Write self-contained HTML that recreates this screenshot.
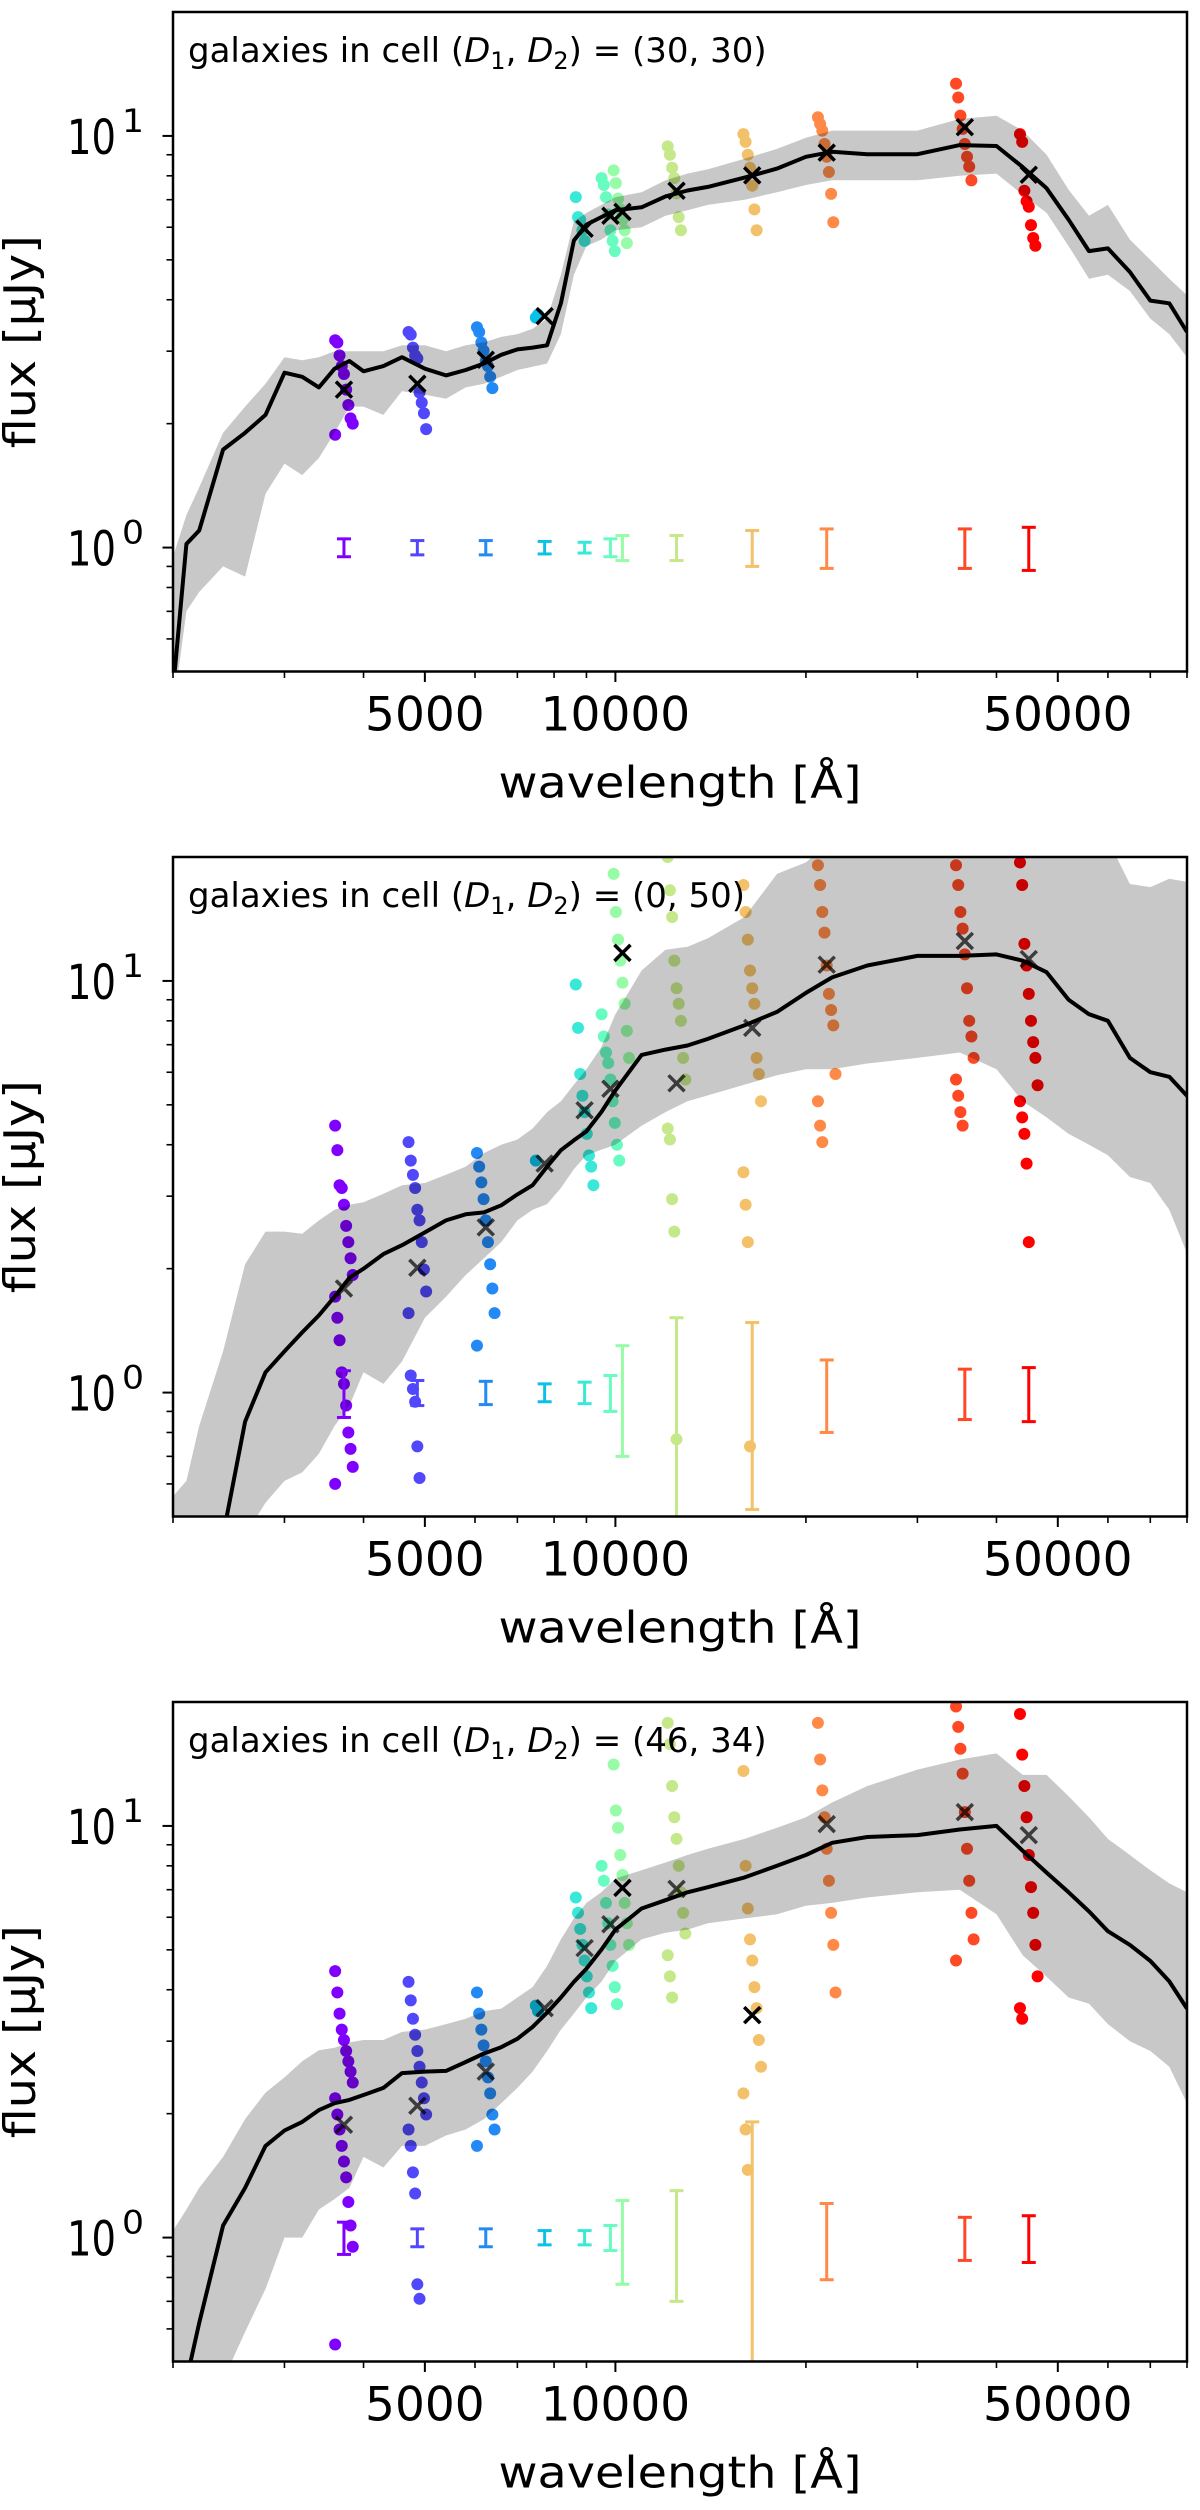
<!DOCTYPE html>
<html><head><meta charset="utf-8"><title>SED panels</title>
<style>
html,body{margin:0;padding:0;background:#fff;width:1200px;height:2510px;overflow:hidden;}
svg{display:block;}
text{font-family:"DejaVu Sans","Liberation Sans",sans-serif;fill:#000;}
</style></head>
<body>
<svg id="fig" xmlns="http://www.w3.org/2000/svg" width="1200" height="2510" viewBox="0 0 1200 2510"></svg>
<script>
const wavelengths = [2000,2100,2200,2400,2600,2800,3000,3200,3400,3600,3800,4000,4300,4600,5000,5400,5800,6200,6600,7000,7400,7800,8200,8600,9000,9500,10000,11000,12000,13000,14000,16000,18000,20000,22000,25000,30000,35000,40000,44000,48000,52000,56000,60000,65000,70000,75000,80000];
const filterWavelengths = [3725,4865,6240,7730,8940,9820,10260,12490,16450,21570,35650,44990];
const xTickValues = [5000,10000,50000];
const xTickLabels = ["5000","10000","50000"];
const xMinorTicks = [2000,3000,4000,6000,7000,8000,9000,20000,30000,40000,60000,70000,80000];
const yMajorTicks = [1,10];
const yTickExponents = ["0","1"];
const yMinorTicks = [0.6,0.7,0.8,0.9,2,3,4,5,6,7,8,9];
const panelTitles = ["(30, 30)","(0, 50)","(46, 34)"];

const p1Median = [0.45,1.02,1.10,1.73,1.90,2.1,2.66,2.60,2.45,2.72,2.84,2.68,2.76,2.90,2.72,2.62,2.70,2.80,2.94,3.03,3.06,3.10,3.92,5.57,6.09,6.35,6.60,6.71,7.13,7.37,7.52,7.92,8.33,8.90,9.15,9.03,9.03,9.50,9.45,8.40,7.46,6.26,5.25,5.33,4.67,3.98,3.92,3.34];
const p1Upper = [0.95,1.2,1.4,1.9,2.2,2.5,2.9,2.85,2.9,3.0,3.0,3.0,3.0,3.1,3.1,3.0,3.1,3.15,3.25,3.3,3.4,3.6,4.6,6.2,6.5,6.8,7.1,7.3,7.8,8.1,8.3,8.8,9.3,9.9,10.3,10.3,10.3,11.0,11.2,10.3,9.0,7.4,6.4,6.8,5.6,5.0,4.5,4.1];
const p1Lower = [0.4,0.7,0.78,0.9,0.85,1.35,1.6,1.5,1.65,1.9,2.2,2.2,2.1,2.4,2.35,2.3,2.45,2.5,2.6,2.7,2.75,2.8,3.3,4.6,5.4,5.6,5.9,6.0,6.4,6.6,6.8,7.0,7.3,7.6,7.8,7.8,7.8,8.0,8.1,7.2,6.5,5.4,4.5,4.6,4.2,3.6,3.3,2.9];
const p1Cross = [2.42,2.50,2.86,3.65,5.95,6.40,6.54,7.36,8.02,9.11,10.5,8.05];
const p1CrossOpacity = [1,1,1,1,1,1,1,1,1,1,1,1];
const p1Err = [0.05,0.04,0.04,0.035,0.03,0.05,0.07,0.07,0.10,0.11,0.11,0.12];
const p1Points = [
 [3.19,3.15,2.93,2.76,2.64,2.42,2.22,2.06,2.0,1.88],
 [3.34,3.29,3.06,2.93,2.88,2.38,2.25,2.12,1.94],
 [3.43,3.34,3.15,3.01,2.84,2.76,2.60,2.44],
 [3.62,3.68],
 [7.1,6.35,6.26,5.90,5.56],
 [7.9,7.6,7.1,6.45,5.9,5.56,5.25],
 [8.25,7.68,7.04,6.63,6.26,5.9,5.49],
 [9.43,9.0,8.37,7.9,7.25,6.35,5.9],
 [10.1,9.67,9.0,8.37,7.57,6.63,5.9],
 [11.1,10.7,10.3,9.56,8.9,8.17,7.23,6.17],
 [13.4,12.4,11.2,10.4,9.56,8.9,8.42,7.8],
 [10.1,9.67,7.36,6.94,6.73,6.07,5.65,5.41]
];

const p2Median = [0.3,0.3,0.35,0.45,0.85,1.12,1.26,1.40,1.54,1.71,1.90,2.0,2.17,2.28,2.45,2.62,2.71,2.74,2.85,3.03,3.19,3.54,3.88,4.10,4.31,4.80,5.42,6.61,6.81,6.97,7.23,7.80,8.41,9.35,10.2,10.9,11.5,11.5,11.6,11.2,10.5,9.0,8.3,8.0,6.5,6.0,5.85,5.26];
const p2Upper = [0.56,0.61,0.83,1.26,2.05,2.46,2.46,2.43,2.62,2.78,2.86,2.9,3.04,3.19,3.23,3.38,3.54,3.82,4.0,4.12,4.38,4.8,5.1,5.6,6.1,6.9,8.3,10.6,11.9,12.1,12.7,14.3,18.2,19.4,22,22,22,22,22,22,22,22,22,22,17.2,16.9,17.7,17.4];
const p2Lower = [0.45,0.45,0.45,0.45,0.45,0.54,0.61,0.64,0.71,0.83,0.93,1.12,1.05,1.19,1.52,1.71,1.93,2.12,2.32,2.62,2.78,2.87,3.14,3.49,3.77,3.89,4.0,4.45,4.8,5.1,5.27,5.6,5.9,6.1,6.1,6.3,6.5,6.7,6.1,5.1,4.66,4.25,4.0,3.77,3.34,3.23,2.78,2.18];
const p2Cross = [1.79,2.01,2.52,3.60,4.85,5.47,11.7,5.64,7.69,10.95,12.5,11.3];
const p2CrossOpacity = [0.7,0.7,0.7,0.7,0.7,0.7,1,0.7,0.7,0.7,0.7,0.7];
const p2Err = [0.13,0.07,0.065,0.05,0.06,0.10,0.30,0.52,0.48,0.20,0.14,0.15];
const p2Points = [
 [4.45,3.88,3.19,3.14,2.86,2.54,2.32,2.12,1.93,1.71,1.52,1.34,1.12,1.05,0.93,0.80,0.73,0.66,0.60],
 [4.06,3.66,3.38,3.14,2.78,2.62,2.32,1.99,1.76,1.56,1.10,1.02,0.95,0.74,0.62],
 [3.82,3.54,3.24,2.95,2.62,2.32,2.05,1.79,1.56,1.30],
 [3.66],
 [9.8,7.69,5.94,5.26,4.80,4.25,3.77,3.54,3.19],
 [8.3,7.33,6.7,6.32,5.76,5.1,4.52,4.0,3.66],
 [18.2,14.7,12.6,11.2,9.9,8.8,7.56,6.5],
 [20,16.6,14.3,11.2,9.6,8.8,8.0,6.5,5.76,4.38,4.12,2.95,2.46,0.77],
 [17.1,14.7,12.6,10.6,9.6,8.8,6.5,5.94,5.1,3.43,2.86,2.32,0.74],
 [19.1,17.1,14.7,13.1,10.9,9.3,8.5,7.8,5.94,5.1,4.45,4.06],
 [19.1,17.1,14.7,13.4,11.6,9.6,8.0,7.33,6.5,5.76,5.26,4.80,4.45],
 [19.4,17.1,12.3,10.9,9.3,8.0,7.1,6.5,5.58,5.1,4.66,4.25,3.6,2.32]
];

const p3Median = [0.35,0.45,0.62,1.07,1.32,1.67,1.82,1.91,2.04,2.12,2.16,2.22,2.31,2.51,2.53,2.54,2.67,2.80,2.90,3.04,3.25,3.52,3.83,4.18,4.50,5.0,5.6,6.3,6.6,6.9,7.1,7.5,8.0,8.5,9.1,9.4,9.5,9.8,10.0,8.7,7.7,6.9,6.2,5.55,5.14,4.7,4.19,3.6];
const p3Upper = [1.04,1.17,1.32,1.57,1.94,2.25,2.45,2.68,2.85,2.89,2.98,3.02,3.02,3.16,3.2,3.3,3.4,3.55,3.6,3.83,4.06,4.57,5.3,5.96,6.5,6.9,7.45,7.8,8.15,8.5,8.8,9.3,9.9,10.5,11.4,12.5,13.7,14.5,15.0,13.3,13.3,11.8,10.5,9.3,8.5,7.8,7.25,6.9];
const p3Lower = [0.4,0.4,0.4,0.45,0.59,0.75,1.0,1.0,1.17,1.24,1.32,1.57,1.48,1.67,1.67,1.77,1.83,1.94,2.12,2.31,2.53,2.84,3.2,3.5,3.83,4.18,4.7,5.3,5.5,5.6,5.8,5.96,6.1,6.4,6.5,6.7,6.9,7.0,6.1,4.85,4.3,3.83,3.7,3.3,3.0,2.84,2.6,2.12];
const p3Cross = [1.88,2.09,2.53,3.61,5.05,5.77,7.07,7.03,3.47,10.1,10.8,9.5];
const p3CrossOpacity = [0.7,0.7,0.7,0.7,0.7,0.7,1,0.7,1,0.7,0.7,0.7];
const p3Err = [0.09,0.05,0.05,0.04,0.04,0.07,0.23,0.30,0.91,0.21,0.12,0.13];
const p3Points = [
 [4.44,3.94,3.50,3.20,3.02,2.84,2.68,2.53,2.38,2.18,1.99,1.83,1.67,1.53,1.40,1.22,1.07,0.95,0.55],
 [4.18,3.77,3.40,3.11,2.84,2.60,2.38,2.18,1.99,1.83,1.67,1.44,1.28,0.77,0.71],
 [3.94,3.50,3.20,2.93,2.68,2.45,2.24,1.99,1.83,1.67],
 [3.66,3.55],
 [6.7,6.15,5.62,5.14,4.71,4.31,3.94,3.61],
 [8.0,7.36,6.5,5.8,5.14,4.57,4.06,3.69],
 [14.1,10.9,9.9,8.5,7.6,6.5,5.8,5.14],
 [17.8,15.8,12.5,10.5,9.3,8.0,6.9,6.15,5.48,4.85,4.31,3.83],
 [13.6,8.0,6.3,5.3,4.71,4.06,3.61,3.02,2.60,2.24,1.83,1.46],
 [17.8,14.5,12.2,10.5,8.8,7.36,6.15,5.14,3.94],
 [19.5,17.4,15.4,13.4,10.8,8.8,7.36,6.15,5.3,4.71],
 [18.7,14.9,12.5,10.5,8.5,7.1,6.15,5.14,4.31,3.61,3.40]
];

const SVGNS = "http://www.w3.org/2000/svg";
const fig = document.getElementById('fig');
const AX_L = 173, AX_R = 1187;
const XMIN = 2000, XMAX = 80000, YMIN = 0.5, YMAX = 20;
function xScale(l){ return AX_L + (Math.log10(l)-Math.log10(XMIN))/(Math.log10(XMAX)-Math.log10(XMIN))*(AX_R-AX_L); }
function makeY(top,bottom){ return v => bottom - (Math.log10(v)-Math.log10(YMIN))/(Math.log10(YMAX)-Math.log10(YMIN))*(bottom-top); }
function rainbow(t){
  const r = Math.min(1,Math.abs(2*t-0.5)), g = Math.sin(Math.PI*t), b = Math.cos(Math.PI*t/2);
  return 'rgb('+Math.round(r*255)+','+Math.round(Math.max(0,g)*255)+','+Math.round(Math.max(0,b)*255)+')';
}
function el(tag, attrs, parent){
  const e = document.createElementNS(SVGNS, tag);
  for (const k in attrs) e.setAttribute(k, attrs[k]);
  (parent||fig).appendChild(e);
  return e;
}

const panels = [
 {top:12, bottom:671.5, median:p1Median, upper:p1Upper, lower:p1Lower, cross:p1Cross, crossOp:p1CrossOpacity, err:p1Err, pts:p1Points},
 {top:857, bottom:1516.5, median:p2Median, upper:p2Upper, lower:p2Lower, cross:p2Cross, crossOp:p2CrossOpacity, err:p2Err, pts:p2Points},
 {top:1702, bottom:2361.5, median:p3Median, upper:p3Upper, lower:p3Lower, cross:p3Cross, crossOp:p3CrossOpacity, err:p3Err, pts:p3Points}
];

panels.forEach((P, pi) => {
  const y = makeY(P.top, P.bottom);
  const g = el('g', {});
  
  
  const clipId = 'clip' + pi;
  const cp = el('clipPath', {id: clipId}, g);
  el('rect', {x: AX_L, y: P.top, width: AX_R-AX_L, height: P.bottom-P.top}, cp);
  const plot = el('g', {'clip-path': 'url(#'+clipId+')'}, g);
  
  

  P.pts.forEach((arr, fi) => {
    const col = rainbow(fi/11);
    const fx = xScale(filterWavelengths[fi]);
    arr.forEach((v, j) => {
      const off = ((j*37) % 9 - 4) * 2.2;
      const c = el('circle', {cx: fx+off, cy: y(v), r: 6, fill: col}, plot);
      
      
    });
  });

  let d = '';
  wavelengths.forEach((l,i) => { d += (i?'L':'M') + xScale(l).toFixed(1) + ',' + y(P.upper[i]).toFixed(1); });
  for (let i = wavelengths.length-1; i >= 0; i--) d += 'L' + xScale(wavelengths[i]).toFixed(1) + ',' + y(P.lower[i]).toFixed(1);
  const band = el('path', {d: d+'Z', fill: '#000', 'fill-opacity': 0.215, stroke: 'none'}, plot);
  
  

  P.err.forEach((s, fi) => {
    const col = rainbow(fi/11);
    const fx = xScale(filterWavelengths[fi]);
    const y1 = y(1+s), y0 = y(Math.max(0.05, 1-s));
    const eg = el('g', {stroke: col, 'stroke-width': 3, fill: 'none'}, plot);
    
    
    el('line', {x1: fx, y1: y1, x2: fx, y2: y0}, eg);
    el('line', {x1: fx-7, y1: y1, x2: fx+7, y2: y1}, eg);
    el('line', {x1: fx-7, y1: y0, x2: fx+7, y2: y0}, eg);
  });

  let md = '';
  wavelengths.forEach((l,i) => { md += (i?'L':'M') + xScale(l).toFixed(1) + ',' + y(P.median[i]).toFixed(1); });
  const ml = el('path', {d: md, fill: 'none', stroke: '#000', 'stroke-width': 4, 'stroke-linejoin': 'round'}, plot);
  
  

  P.cross.forEach((v, fi) => {
    const cx = xScale(filterWavelengths[fi]), cy = y(v), s = 8;
    const cg = el('path', {d: 'M'+(cx-s)+','+(cy-s)+'L'+(cx+s)+','+(cy+s)+'M'+(cx-s)+','+(cy+s)+'L'+(cx+s)+','+(cy-s), stroke: '#000', 'stroke-opacity': P.crossOp[fi], 'stroke-width': 3.5, fill: 'none'}, plot);
    
    
  });

  const sp = el('rect', {x: AX_L, y: P.top, width: AX_R-AX_L, height: P.bottom-P.top, fill: 'none', stroke: '#000', 'stroke-width': 2.5}, g);
  
  

  xMinorTicks.forEach(l => { const X = xScale(l); el('line', {x1: X, y1: P.bottom, x2: X, y2: P.bottom+6.5, stroke: '#000', 'stroke-width': 1.6}, g); });
  xTickValues.forEach((l,i) => {
    const X = xScale(l);
    el('line', {x1: X, y1: P.bottom, x2: X, y2: P.bottom+10.5, stroke: '#000', 'stroke-width': 2}, g);
    const t = el('text', {x: X, y: P.bottom+59, 'font-size': 47, 'text-anchor': 'middle'}, g);
    t.textContent = xTickLabels[i];
    
    
  });
  yMinorTicks.forEach(v => { const Y = y(v); el('line', {x1: AX_L-6.5, y1: Y, x2: AX_L, y2: Y, stroke: '#000', 'stroke-width': 1.6}, g); });
  yMajorTicks.forEach((v,i) => {
    const Y = y(v);
    el('line', {x1: AX_L-10.5, y1: Y, x2: AX_L, y2: Y, stroke: '#000', 'stroke-width': 2}, g);
    const t = el('text', {x: 67, y: Y+18, 'font-size': 48}, g);
    
    
    const a = el('tspan', {textLength: 49, lengthAdjust: 'spacingAndGlyphs'}, t); a.textContent = '10';
    const b = el('tspan', {x: 122, y: Y-4, 'font-size': 32, textLength: 22, lengthAdjust: 'spacingAndGlyphs'}, t); b.textContent = yTickExponents[i];
  });

  const xl = el('text', {x: 680, y: P.bottom+126, 'font-size': 44, 'text-anchor': 'middle', textLength: 363, lengthAdjust: 'spacingAndGlyphs'}, g);
  xl.textContent = 'wavelength [Å]';
  
  
  const cy = (P.top+P.bottom)/2;
  const yl = el('text', {x: 0, y: 0, 'font-size': 44, 'text-anchor': 'middle', textLength: 213, lengthAdjust: 'spacingAndGlyphs', transform: 'translate(35,'+cy+') rotate(-90)'}, g);
  yl.textContent = 'flux [μJy]';
  
  

  const tt = el('text', {x: 188, y: P.top+50, 'font-size': 34}, g);
  
  
  const parts = [['galaxies in cell (',''],['D','i'],['1','s'],[', ',''],['D','i'],['2','s'],[') = '+panelTitles[pi],'']];
  parts.forEach(pp => {
    const ts = el('tspan', {}, tt);
    ts.textContent = pp[0];
    if (pp[1]==='i') ts.setAttribute('font-style','italic');
    if (pp[1]==='s') { ts.setAttribute('font-size','24'); ts.setAttribute('dy','7'); }
    else if (ts.previousSibling && ts.previousSibling.getAttribute && ts.previousSibling.getAttribute('dy')==='7') ts.setAttribute('dy','-7');
  });
});
</script>
</body></html>
